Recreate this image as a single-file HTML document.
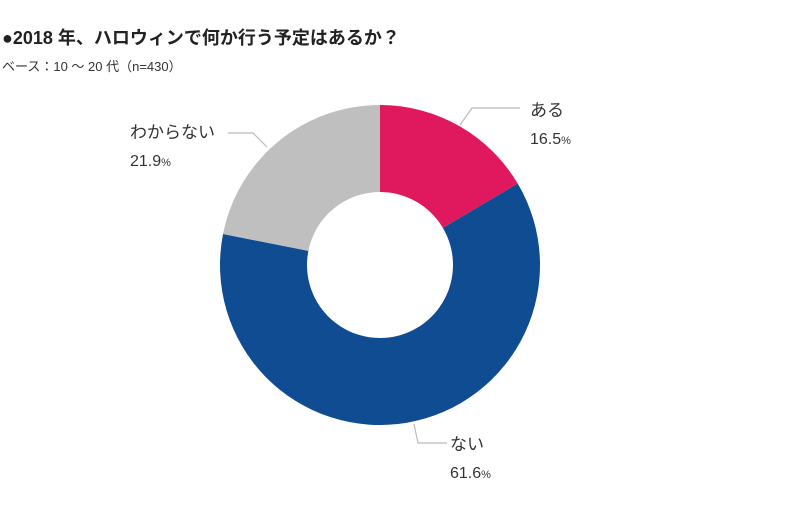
<!DOCTYPE html>
<html><head><meta charset="utf-8"><style>
body{margin:0;width:800px;height:507px;background:#fff;overflow:hidden;font-family:"Liberation Sans","Noto Sans CJK JP",sans-serif;}
</style></head><body>
<svg width="800" height="507" style="position:absolute;left:0;top:0">
<text x="2" y="44" font-size="18" font-weight="bold" fill="#222" font-family="Liberation Sans, Noto Sans CJK JP, sans-serif">●2018 年、ハロウィンで何か行う予定はあるか？</text>
<text x="2" y="71" font-size="13" fill="#333" font-family="Liberation Sans, Noto Sans CJK JP, sans-serif">ベース：10 ～ 20 代（n=430）</text>
<g id="slices"></g>
<g id="labels" font-family="Liberation Sans, Noto Sans CJK JP, sans-serif" fill="#333"></g>
</svg>
<script>
const categories=["ある","ない","わからない"];
const values=[16.5,61.6,21.9];
const colors=["#e0195f","#0f4c92","#c0bfbf"];
const cx=380,cy=265,R=160,r=73;
const NS="http://www.w3.org/2000/svg";
const g=document.getElementById('slices');
const total=values.reduce((a,b)=>a+b,0);
let a0=-Math.PI/2;
function pt(a,rad){return [cx+rad*Math.cos(a),cy+rad*Math.sin(a)];}
values.forEach((v,i)=>{
  const a1=a0+v/total*2*Math.PI;
  const large=(a1-a0)>Math.PI?1:0;
  const [x1,y1]=pt(a0,R),[x2,y2]=pt(a1,R),[x3,y3]=pt(a1,r),[x4,y4]=pt(a0,r);
  const p=document.createElementNS(NS,'path');
  p.setAttribute('d',`M${x1},${y1}A${R},${R} 0 ${large} 1 ${x2},${y2}L${x3},${y3}A${r},${r} 0 ${large} 0 ${x4},${y4}Z`);
  p.setAttribute('fill',colors[i]);
  
  
  g.appendChild(p);
  a0=a1;
});
const lg=document.getElementById('labels');
const leaders=[
 {pts:"460,125 472,108 520,108",x:530,y:116},
 {pts:"414,424 418,443 447,443",x:450,y:450},
 {pts:"267,147 253,133 228,133",x:130,y:138}
];
categories.forEach((c,i)=>{
  const L=leaders[i];
  const pl=document.createElementNS(NS,'polyline');
  pl.setAttribute('points',L.pts);pl.setAttribute('fill','none');pl.setAttribute('stroke','#bbb');pl.setAttribute('stroke-width','1.2');
  
  
  lg.appendChild(pl);
  const t=document.createElementNS(NS,'text');
  t.setAttribute('x',L.x);t.setAttribute('y',L.y);t.setAttribute('font-size','17');
  t.textContent=c;
  
  
  lg.appendChild(t);
  const t2=document.createElementNS(NS,'text');
  t2.setAttribute('x',L.x);t2.setAttribute('y',L.y+28);t2.setAttribute('font-size','16');
  t2.innerHTML=values[i].toFixed(1)+'<tspan font-size="11">%</tspan>';
  
  
  lg.appendChild(t2);
});
</script>
</body></html>
